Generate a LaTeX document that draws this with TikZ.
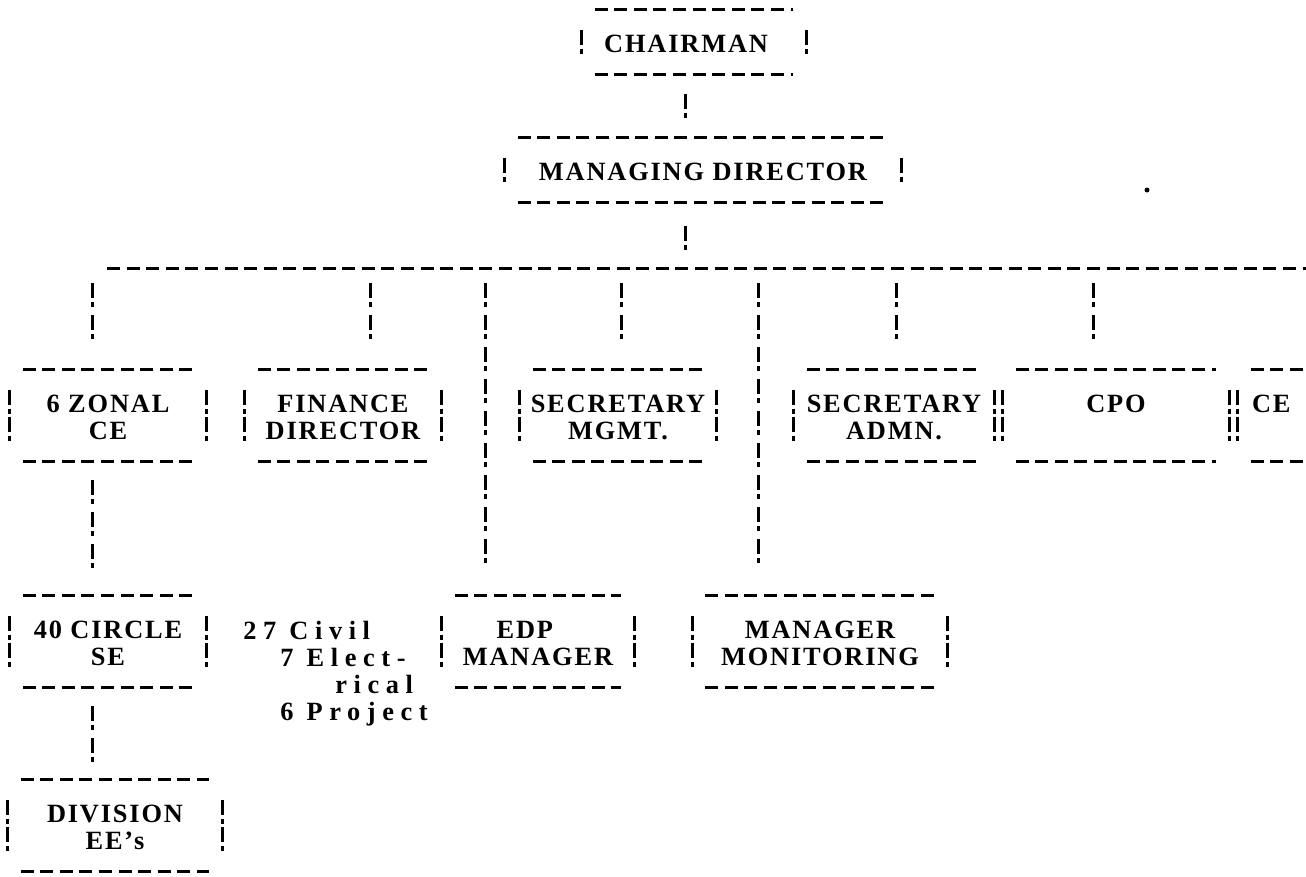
\documentclass[tikz,border=0pt]{standalone}
\usepackage{fontspec}
\setmainfont{Liberation Serif}[LetterSpace=7]
\usepackage{tikz}

\begin{document}
\begin{tikzpicture}[x=0.2mm, y=-0.2mm,
  every node/.style = {inner sep=0pt, align=center, font=\bfseries\fontsize{15}{15.33}\selectfont},
  dashline/.style = {line width=0.6mm, dash pattern=on 2.6mm off 1.32mm},
  bang/.style = {line width=0.6mm, dash pattern=on 3mm off 0.8mm on 1mm off 1.6mm},
  sidebang/.style = {line width=0.6mm, dash pattern=on 3mm off 0.8mm on 1mm off 0.6mm, shorten >=0.4mm},
  link/.style = {bang, shorten <=7mm, shorten >=7mm},
  drop/.style = {bang, shorten <=3mm, shorten >=10.2mm},
  frame/.style = {append after command={\pgfextra{\let\boxnode\tikzlastnode}
      ([shift={(2.6mm,4mm)}]\boxnode.north west) edge[dashline] ([shift={(-2.6mm,4mm)}]\boxnode.north east)
      ([shift={(2.6mm,-3.2mm)}]\boxnode.south west) edge[dashline] ([shift={(-2.6mm,-3.2mm)}]\boxnode.south east)
      (\boxnode.north west) edge[sidebang] (\boxnode.south west)
      (\boxnode.north east) edge[sidebang] (\boxnode.south east)}},
  tworow/.style = {frame, minimum width=#1, minimum height=11mm},
  onerow/.style = {frame, minimum width=#1, minimum height=5.6mm},
]
\useasboundingbox (0,0) rectangle (1306,877);
\clip (0,0) rectangle (1306,877);

\node[onerow=44.8mm] (chair) at (694,44) {CHAIRMAN\hspace*{0.6em}};
\node[onerow=79.2mm] (md) at (703,172) {MANAGING DIRECTOR};

\node[tworow=39.2mm] (zonal) at (108,417.5) {6 ZONAL\\CE};
\node[tworow=39.2mm] (fin) at (343,417.5) {FINANCE\\DIRECTOR};
\node[tworow=39.2mm] (secm) at (618,417.5) {SECRETARY\\MGMT.};
\node[tworow=40mm] (seca) at (894,417.5) {SECRETARY\\ADMN.};
\node[tworow=45.2mm] (cpo) at (1116,417.5) {CPO\\\mbox{}};
\node[frame, minimum height=11mm, inner xsep=2.8mm, text width=33.6mm, align=left] (ce) at (1336,417.5) {CE\\\mbox{}};

\node[tworow=39.2mm] (circle) at (108,643.5) {40 CIRCLE\\SE};
\node[anchor=north west, align=left, font=\bfseries\fontsize{15}{15.33}\selectfont\addfontfeature{LetterSpace=25}] (counts) at (243,621)
  {27 Civil\\ \hspace*{7.4mm}7 Elect-\\ \hspace*{18.4mm}rical\\ \hspace*{7.4mm}6 Project};
\node[tworow=38.4mm] (edp) at (538,643.5) {EDP\hspace*{1em}\\MANAGER};
\node[tworow=51mm] (mgr) at (820,643.5) {MANAGER\\MONITORING};

\node[tworow=42.8mm] (div) at (115,827.5) {DIVISION\\EE's};

% the long line under the managing director
\coordinate (busW) at (107,268);
\coordinate (busE) at (1306,268);
\coordinate (tapZ) at (92,268);
\coordinate (tapF) at (370,268);
\coordinate (tapE) at (485,268);
\coordinate (tapS) at (621,268);
\coordinate (tapM) at (685,268);
\coordinate (tapR) at (758,268);
\coordinate (tapA) at (896,268);
\coordinate (tapC) at (1093,268);
\draw[dashline] (busW) -- (busE);

\draw[link, shorten <=7.2mm, shorten >=8mm] (chair.south -| tapM) -- (md.north -| tapM);
\draw[link, shorten <=8mm, shorten >=3.6mm] (md.south -| tapM) -- (tapM);
\draw[drop] (tapZ) -- (tapZ |- zonal.north);
\draw[drop] (tapF) -- (tapF |- fin.north);
\draw[drop, shorten >=10.6mm] (tapE) -- (tapE |- edp.north);
\draw[drop] (tapS) -- (tapS |- secm.north);
\draw[drop, shorten >=10.6mm] (tapR) -- (tapR |- mgr.north);
\draw[drop] (tapA) -- (tapA |- seca.north);
\draw[drop] (tapC) -- (tapC |- cpo.north);
\draw[link, shorten >=9.6mm] (zonal.south -| tapZ) -- (circle.north -| tapZ);
\draw[link, shorten >=7.6mm] (circle.south -| tapZ) -- (div.north -| tapZ);

\fill (1147,190) circle [radius=0.5mm];
\end{tikzpicture}
\end{document}
